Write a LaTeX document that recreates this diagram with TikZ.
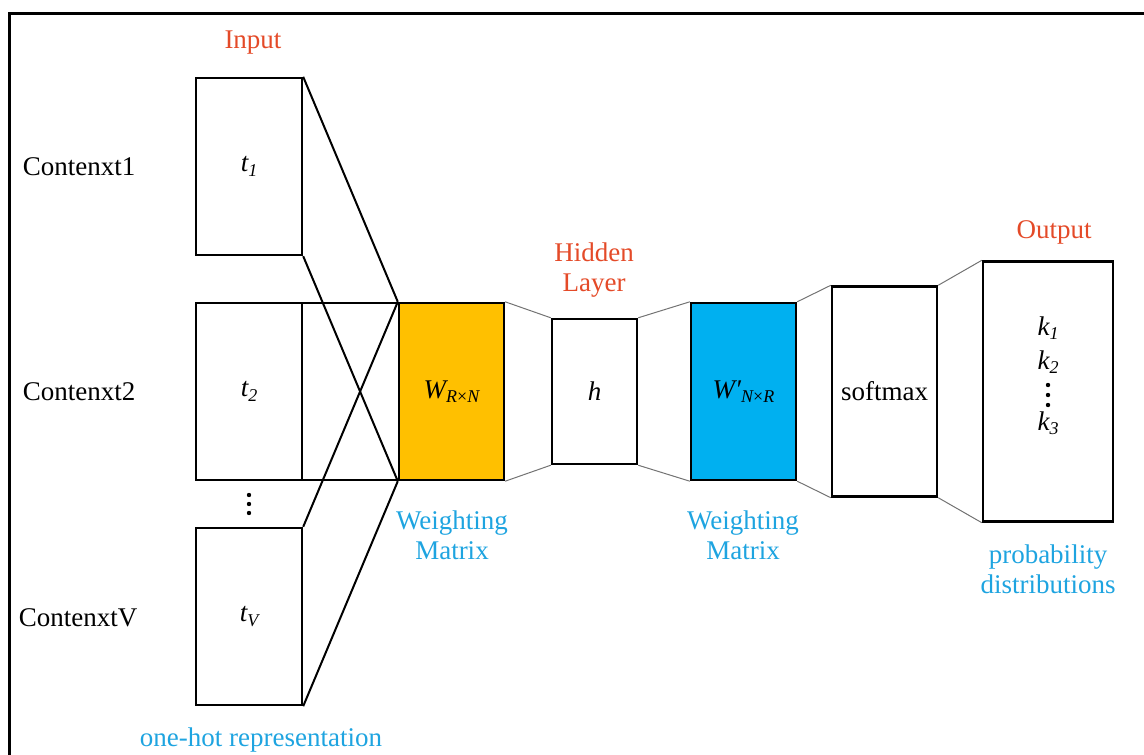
\documentclass[tikz,border=0pt]{standalone}
\usepackage{fontspec}
\setmainfont{Liberation Serif}
\definecolor{redlab}{RGB}{228,74,40}
\definecolor{bluelab}{RGB}{30,164,224}
\definecolor{wfill}{RGB}{255,192,0}
\definecolor{wpfill}{RGB}{0,176,240}
\newcommand{\isub}[1]{\raisebox{-0.35ex}{\fontsize{18}{18}\selectfont\itshape #1}}
\begin{document}
\begin{tikzpicture}[x=1pt,y=-1pt,
  font=\fontsize{27}{30}\selectfont,
  box/.style={draw=black, line width=2.4pt, inner sep=0pt},
  thinline/.style={draw=black!55, line width=1pt},
  crossline/.style={draw=black, line width=2pt},
  lab/.style={inner sep=0pt},
  redt/.style={lab, text=redlab},
  bluet/.style={lab, text=bluelab, align=center}]
\useasboundingbox (0,0) rectangle (1144,755);
\clip (0,0) rectangle (1144,755);
\draw[line width=3pt] (9.5,13) rectangle (1170,780);

% boxes
\node[box, minimum width=106, minimum height=177] (t1) at (249,166.5) {\itshape t\isub{1}};
\node[box, minimum width=106, minimum height=177] (t2) at (249,391.5) {\itshape t\isub{2}};
\node[box, minimum width=106, minimum height=177] (tV) at (249,616.5) {\itshape t\isub{V}};
\node[box, minimum width=97, minimum height=177] (mid) at (350.5,391.5) {};
\node[box, fill=wfill, minimum width=105, minimum height=177] (W) at (451.5,391.5) {\itshape W\isub{R\upshape{×}\itshape N}};
\node[box, minimum width=85, minimum height=145] (h) at (594.5,391.5) {\itshape h};
\node[box, fill=wpfill, minimum width=105, minimum height=177] (Wp) at (743.5,391.5) {\itshape W′\isub{N\upshape{×}\itshape R}};
\node[box, minimum width=105, minimum height=210] (soft) at (884.5,391.5) {softmax};
\node[box, minimum width=130, minimum height=260] (out) at (1048,391.5) {};

% crossing connectors
\draw[crossline] (t1.north east) -- (W.north west);
\draw[crossline] (t1.south east) -- (W.south west);
\draw[crossline] (tV.north east) -- (W.north west);
\draw[crossline] (tV.south east) -- (W.south west);

% thin connectors
\draw[thinline] (W.north east) -- (h.north west);
\draw[thinline] (W.south east) -- (h.south west);
\draw[thinline] (h.north east) -- (Wp.north west);
\draw[thinline] (h.south east) -- (Wp.south west);
\draw[thinline] (Wp.north east) -- (soft.north west);
\draw[thinline] (Wp.south east) -- (soft.south west);
\draw[thinline] (soft.north east) -- (out.north west);
\draw[thinline] (soft.south east) -- (out.south west);

% output contents
\node[lab] (k1) at (1048,328) {\itshape k\isub{1}};
\node[lab] (k2) at (1048,362) {\itshape k\isub{2}};
\node[lab] (k3) at (1048,423) {\itshape k\isub{3}};
\fill (1048,385) circle (2.2);
\fill (1048,395) circle (2.2);
\fill (1048,405) circle (2.2);

% vertical dots between t2 and tV
\fill (249,495) circle (2.2);
\fill (249,504) circle (2.2);
\fill (249,513) circle (2.2);

% labels
\node[redt] (linput) at (253,43) {Input};
\node[redt, align=center] (lhidden) at (594,270) {Hidden\\Layer};
\node[redt] (loutput) at (1054,232) {Output};
\node[lab] (c1) at (79,167) {Contenxt1};
\node[lab] (c2) at (79,392) {Contenxt2};
\node[lab] (cV) at (78,618) {ContenxtV};
\node[bluet] (lw1) at (452,535) {Weighting\\Matrix};
\node[bluet] (lw2) at (743,535) {Weighting\\Matrix};
\node[bluet] (lprob) at (1048,569) {probability\\distributions};
\node[bluet] (lone) at (261,740) {one-hot representation};
\end{tikzpicture}
\end{document}
